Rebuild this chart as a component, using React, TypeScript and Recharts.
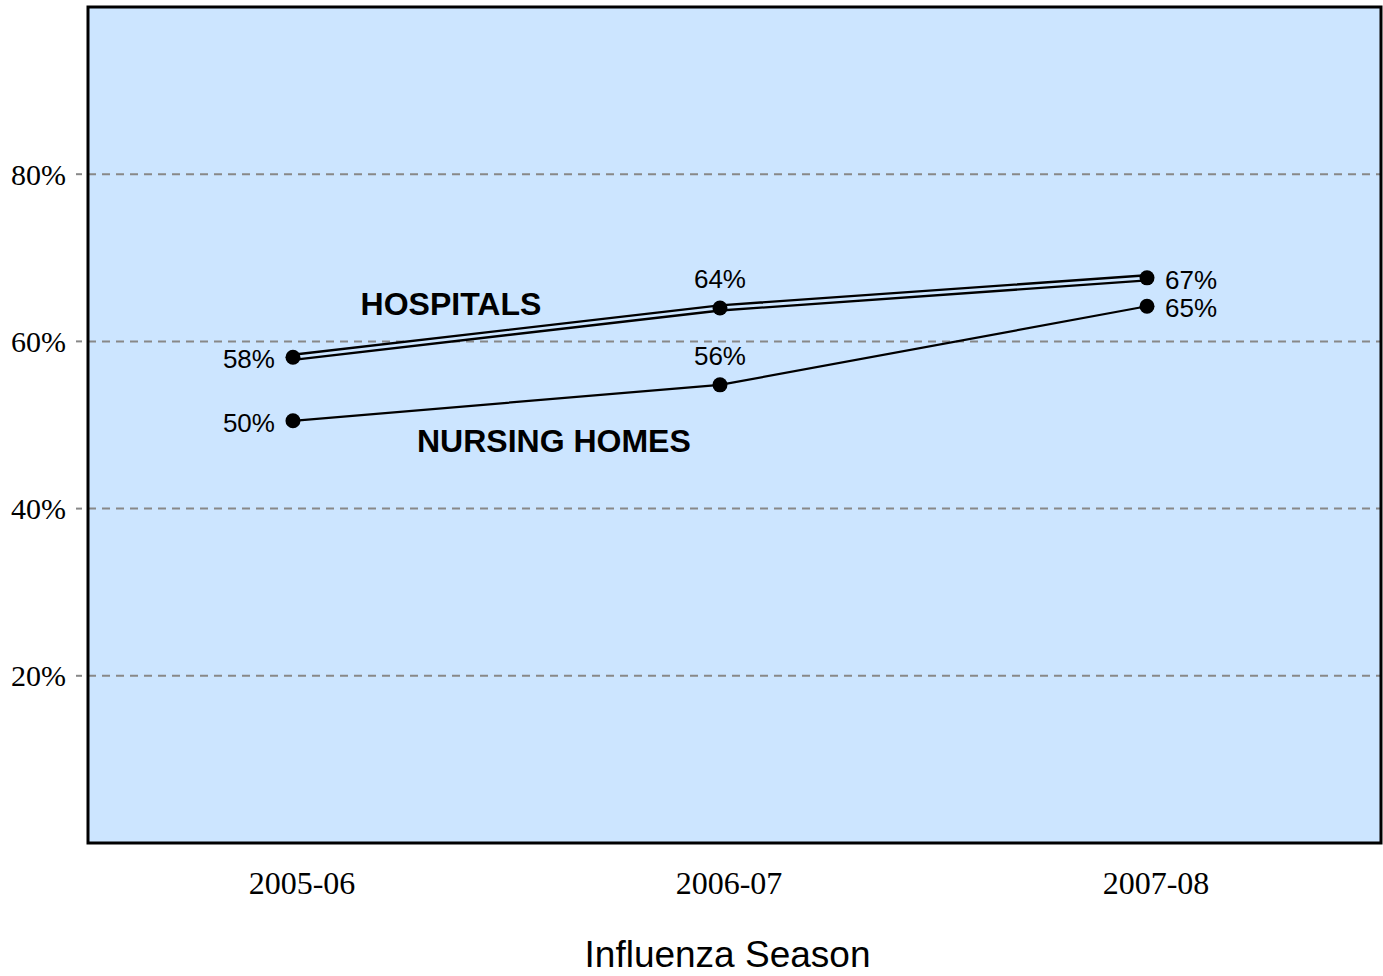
import React from "react";
import {
  CartesianGrid,
  LabelList,
  Line,
  LineChart,
  ReferenceArea,
  ReferenceDot,
  XAxis,
  YAxis,
} from "recharts";

const seasons = ["2005-06", "2006-07", "2007-08"];
const hospitals = [58.1, 64.0, 67.6];
const hospitalsText = ["58%", "64%", "67%"];
const nursingHomes = [50.5, 54.8, 64.2];
const nursingHomesText = ["50%", "56%", "65%"];
const yTicks = [20, 40, 60, 80];

const data = seasons.map((season, i) => ({
  x: i + 1,
  season,
  hospitals: hospitals[i],
  hospitalsText: hospitalsText[i],
  nursing: nursingHomes[i],
  nursingText: nursingHomesText[i],
}));

const BG = "#CCE5FF";
const sans = "Liberation Sans, Arial, sans-serif";
const serif = "Liberation Serif, Times New Roman, serif";

// first point: label on the left, middle: above, last: on the right
const PointLabel = (props: any) => {
  const { x, y, index, value } = props;
  let tx = x;
  let ty = y;
  let anchor: "start" | "middle" | "end" = "middle";
  if (index === 0) {
    tx = x - 18;
    ty = y + 2;
    anchor = "end";
  } else if (index === 1) {
    ty = y - 29;
  } else {
    tx = x + 18;
    ty = y + 2;
    anchor = "start";
  }
  return (
    <text
      x={tx}
      y={ty}
      textAnchor={anchor}
      dominantBaseline="central"
      fontFamily={sans}
      fontSize={26}
      fill="#000"
    >
      {value}
    </text>
  );
};

const AxisTitle = (props: any) => {
  const { viewBox } = props;
  return (
    <text
      x={viewBox.x + viewBox.width / 2 - 7}
      y={967}
      textAnchor="middle"
      fontFamily={sans}
      fontSize={37}
      fill="#000"
    >
      Influenza Season
    </text>
  );
};

const Nothing = () => <g />;

const App = () => {
  return (
    <div style={{ position: "absolute", left: 0, top: 0 }}>
      <LineChart
        width={1383}
        height={976}
        data={data}
        margin={{ top: 7, right: 2, bottom: 0, left: 0 }}
      >
        <CartesianGrid
          vertical={false}
          fill={BG}
          fillOpacity={1}
          stroke="#888"
          strokeDasharray="8 6"
          strokeWidth={2}
        />
        <XAxis
          dataKey="x"
          type="number"
          domain={[0.52, 3.548]}
          ticks={[1, 2, 3]}
          allowDecimals
          tickFormatter={(v) => seasons[v - 1]}
          axisLine={false}
          tickLine={false}
          tickSize={0}
          tickMargin={28}
          height={133}
          tick={{ fill: "#000", fontFamily: serif, fontSize: 32, dx: 9 }}
          label={<AxisTitle />}
        />
        <YAxis
          type="number"
          domain={[0, 100]}
          ticks={yTicks}
          tickFormatter={(v) => `${v}%`}
          width={88}
          axisLine={false}
          tickSize={12}
          tickMargin={10}
          tickLine={{ stroke: "#888", strokeDasharray: "6 6", strokeWidth: 2 }}
          tick={{ fill: "#000", fontFamily: serif, fontSize: 30 }}
        />
        <ReferenceArea
          x1={0.52}
          x2={3.548}
          y1={0}
          y2={100}
          fill="none"
          stroke="#000"
          strokeWidth={3}
          ifOverflow="visible"
        />
        <Line
          dataKey="nursing"
          stroke="#000"
          strokeWidth={2.2}
          dot={{ r: 7.5, fill: "#000", stroke: "#000", strokeWidth: 0 }}
          isAnimationActive={false}
        >
          <LabelList dataKey="nursingText" content={PointLabel} />
        </Line>
        <Line
          dataKey="hospitals"
          stroke="#000"
          strokeWidth={7.5}
          dot={false}
          isAnimationActive={false}
        />
        <Line
          dataKey="hospitals"
          stroke={BG}
          strokeWidth={2.8}
          dot={false}
          isAnimationActive={false}
        />
        <Line
          dataKey="hospitals"
          stroke="none"
          dot={{ r: 7.5, fill: "#000", stroke: "#000", strokeWidth: 0 }}
          isAnimationActive={false}
        >
          <LabelList dataKey="hospitalsText" content={PointLabel} />
        </Line>
        <ReferenceDot
          x={1.37}
          y={64.5}
          r={0}
          shape={Nothing}
          label={{
            value: "HOSPITALS",
            position: "center",
            fill: "#000",
            fontFamily: sans,
            fontSize: 32,
            fontWeight: "bold",
          }}
        />
        <ReferenceDot
          x={1.611}
          y={48.1}
          r={0}
          shape={Nothing}
          label={{
            value: "NURSING HOMES",
            position: "center",
            fill: "#000",
            fontFamily: sans,
            fontSize: 32,
            fontWeight: "bold",
          }}
        />
      </LineChart>
    </div>
  );
};

export default App;
